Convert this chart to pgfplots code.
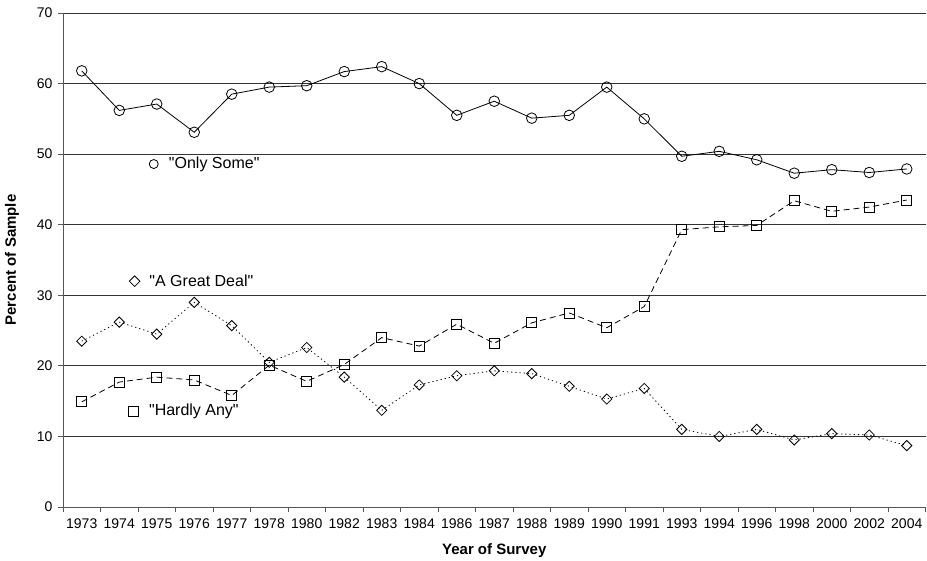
\documentclass[border=0pt]{standalone}
\usepackage{fontspec}
\setmainfont{Liberation Sans}[Ligatures=TeXOff]
\usepackage{pgfplots}
\pgfplotsset{compat=1.18}
\usetikzlibrary{shapes.geometric}
\definecolor{axgray}{HTML}{555555}
\definecolor{gridc}{HTML}{333333}
\begin{document}
\begin{tikzpicture}[x=1pt,y=1pt]
\begin{axis}[
  at={(63pt,53pt)}, anchor=south west,
  scale only axis, width=862.5pt, height=494pt,
  xmin=-0.5, xmax=22.5, ymin=0, ymax=70,
  axis x line*=bottom, axis y line*=left,
  axis line style={axgray, line width=0.9pt},
  xtick={-0.5,0.5,...,22.5}, xticklabels={},
  extra x ticks={0,1,...,22},
  extra x tick labels={1973,1974,1975,1976,1977,1978,1980,1982,1983,1984,1986,1987,1988,1989,1990,1991,1993,1994,1996,1998,2000,2002,2004},
  extra x tick style={tick style={draw=none}, grid=none},
  xticklabel style={yshift=-3pt},
  ytick={0,10,...,70},
  ymajorgrids, grid style={gridc, line width=0.9pt},
  tick align=outside, major tick length=5pt,
  tick style={axgray, line width=0.8pt},
  tick label style={font=\fontsize{14}{16}\selectfont},
  yticklabel style={xshift=-2pt},
  /pgf/number format/assume math mode=true,
  xlabel={Year of Survey}, ylabel={Percent of Sample},
  label style={font=\fontsize{15}{17}\selectfont\bfseries},
  xlabel style={at={(axis description cs:0.5,-0.0875)}, anchor=center},
  ylabel style={at={(axis description cs:-0.0591,0.5)}, anchor=center},
  clip=false,
]
\addplot[black, line width=0.8pt, mark=o, mark size=5.3pt, mark options={solid, line width=0.8pt}]
 coordinates {(0,61.8)(1,56.2)(2,57.1)(3,53.1)(4,58.5)(5,59.5)(6,59.7)(7,61.7)(8,62.4)(9,60.0)(10,55.5)(11,57.5)(12,55.1)(13,55.5)(14,59.5)(15,55.0)(16,49.7)(17,50.4)(18,49.2)(19,47.3)(20,47.8)(21,47.4)(22,47.9)};
\addplot[black, line width=0.8pt, dash pattern=on 6pt off 4pt, mark=square, mark size=5pt, mark options={solid, line width=0.8pt}]
 coordinates {(0,14.9)(1,17.7)(2,18.4)(3,18.0)(4,15.8)(5,20.1)(6,17.8)(7,20.2)(8,24.0)(9,22.8)(10,25.9)(11,23.2)(12,26.1)(13,27.5)(14,25.4)(15,28.4)(16,39.3)(17,39.7)(18,39.9)(19,43.4)(20,41.9)(21,42.5)(22,43.5)};
\addplot[black, line width=0.8pt, dash pattern=on 1.2pt off 3pt, mark=square, mark size=3.6pt, mark options={solid, line width=0.8pt, rotate=45}]
 coordinates {(0,23.5)(1,26.2)(2,24.5)(3,29.0)(4,25.7)(5,20.5)(6,22.6)(7,18.4)(8,13.7)(9,17.3)(10,18.6)(11,19.3)(12,18.9)(13,17.1)(14,15.3)(15,16.8)(16,11.0)(17,10.0)(18,11.0)(19,9.5)(20,10.4)(21,10.2)(22,8.7)};
\node[draw=black, circle, line width=0.8pt, minimum size=9pt, inner sep=0] at (axis cs:1.92,48.6) {};
\node[anchor=west, inner sep=0, font=\fontsize{16}{18}\selectfont] at (axis cs:2.32,48.6) {"Only Some"};
\node[draw=black, diamond, line width=0.8pt, minimum size=11pt, inner sep=0] at (axis cs:1.41,32.0) {};
\node[anchor=west, inner sep=0, font=\fontsize{16}{18}\selectfont] at (axis cs:1.80,32.0) {"A Great Deal"};
\node[draw=black, rectangle, line width=0.8pt, minimum size=10pt, inner sep=0] at (axis cs:1.39,13.6) {};
\node[anchor=west, inner sep=0, font=\fontsize{16}{18}\selectfont] at (axis cs:1.79,13.6) {"Hardly Any"};
\end{axis}
\pgfresetboundingbox
\path[use as bounding box] (0,0) rectangle (927pt,560pt);
\end{tikzpicture}
\end{document}
